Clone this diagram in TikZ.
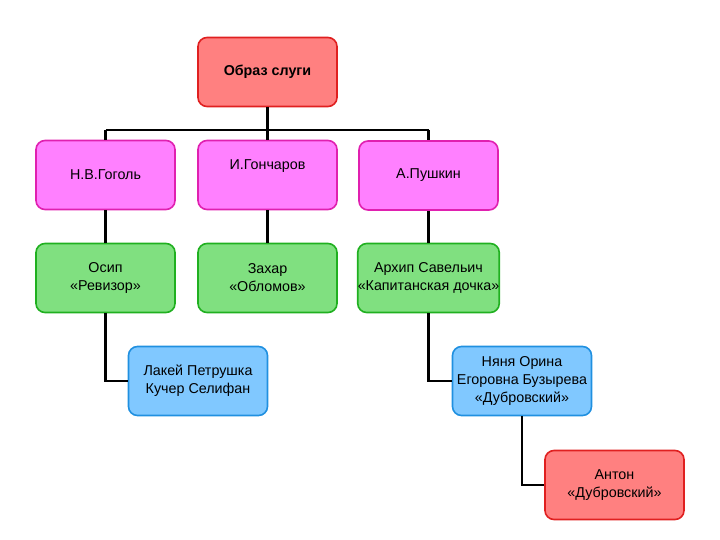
\documentclass[tikz,border=0pt]{standalone}
\usepackage{fontspec}
\setmainfont{Liberation Sans}
\definecolor{redfill}{HTML}{FF8080}
\definecolor{redline}{HTML}{E02020}
\definecolor{pinkfill}{HTML}{FF80FF}
\definecolor{pinkline}{HTML}{E020B0}
\definecolor{greenfill}{HTML}{80E080}
\definecolor{greenline}{HTML}{20B020}
\definecolor{bluefill}{HTML}{80C8FF}
\definecolor{blueline}{HTML}{2090E0}
\begin{document}
\begin{tikzpicture}[x=1pt,y=-1pt,
  box/.style={draw, line width=1.6pt, rounded corners=9pt, minimum width=139pt, minimum height=69pt, inner sep=0pt, font=\fontsize{14.3}{18}\selectfont, align=center, anchor=center},
  redbox/.style={box, fill=redfill, draw=redline},
  pinkbox/.style={box, fill=pinkfill, draw=pinkline},
  greenbox/.style={box, fill=greenfill, draw=greenline},
  bluebox/.style={box, fill=bluefill, draw=blueline},
  conn/.style={line width=2.6pt, black}]
\useasboundingbox (0,0) rectangle (720,540);
% nodes
\node[redbox] (top) at (267.5,72) {\textbf{Образ слуги}};
\node[pinkbox] (gogol) at (105.5,175) {Н.В.Гоголь};
\node[pinkbox] (gonch) at (267.5,175) {\raisebox{20pt}{И.Гончаров}};
\node[pinkbox] (push) at (428.5,175.5) {А.Пушкин};
\node[greenbox] (osip) at (105.5,278) {Осип\\«Ревизор»};
\node[greenbox] (zakhar) at (267.5,278) {Захар\\«Обломов»};
\node[greenbox] (arkhip) at (428.5,278) {Архип Савельич\\«Капитанская дочка»};
\node[bluebox] (lakey) at (198,381) {Лакей Петрушка\\Кучер Селифан};
\node[bluebox] (nanny) at (522,381) {Няня Орина\\Егоровна Бузырева\\«Дубровский»};
\node[redbox] (anton) at (614.5,485) {Антон\\«Дубровский»};
% connectors
\coordinate (busL) at (gogol.north |- 0,130);
\coordinate (busR) at (push.north |- 0,130);
\coordinate (lk) at (osip.south |- lakey.west);
\coordinate (nk) at (arkhip.south |- nanny.west);
\coordinate (ak) at (nanny.south |- anton.west);
\begin{scope}[on background layer/.try]
\end{scope}
\draw[conn] (top.south) -- (gonch.north);
\draw[conn] (busL) -- (busR);
\draw[conn] (busL) -- (gogol.north);
\draw[conn] (busR) -- (push.north);
\draw[conn] (gogol.south) -- (osip.north);
\draw[conn] (gonch.south) -- (zakhar.north);
\draw[conn] (push.south) -- (arkhip.north);
\draw[conn] (osip.south) -- (lk) -- (lakey.west);
\draw[conn] (arkhip.south) -- (nk) -- (nanny.west);
\draw[conn] (nanny.south) -- (ak) -- (anton.west);
\end{tikzpicture}
\end{document}
